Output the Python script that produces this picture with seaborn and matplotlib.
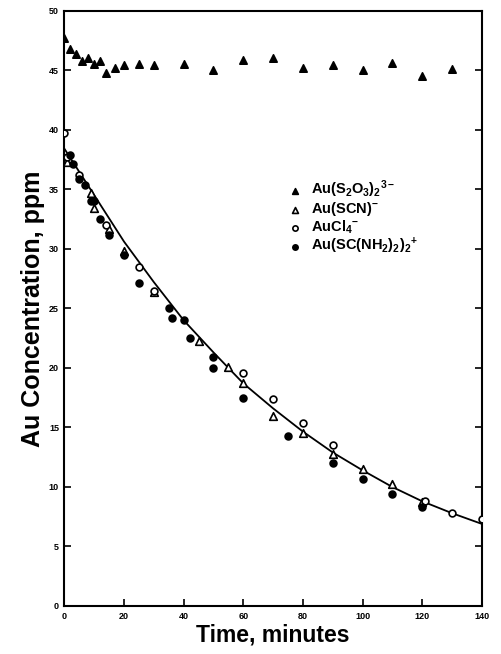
import matplotlib
matplotlib.use("Agg")
import matplotlib.pyplot as plt
import seaborn as sns
import pandas as pd

# ---------------- data ----------------
thio_t = [0, 2, 4, 6, 8, 10, 12, 14, 17, 20, 25, 30, 40, 50, 60, 70, 80, 90, 100, 110, 120, 130]
thio_c = [47.7, 46.8, 46.4, 45.8, 46.0, 45.5, 45.8, 44.8, 45.2, 45.4, 45.5, 45.4, 45.5, 45.0,
          45.9, 46.0, 45.2, 45.4, 45.0, 45.6, 44.5, 45.1]

scn_t = [1, 9, 10, 15, 20, 30, 45, 55, 60, 70, 80, 90, 100, 110, 120]
scn_c = [37.3, 34.7, 33.4, 31.7, 29.8, 26.4, 22.3, 20.1, 18.7, 16.0, 14.5, 12.8, 11.5, 10.25, 8.7]

cl_t = [0, 1, 5, 14, 25, 30, 60, 70, 80, 90, 121, 130, 140]
cl_c = [39.7, 37.7, 36.2, 32.0, 28.5, 26.5, 19.6, 17.4, 15.35, 13.5, 8.8, 7.8, 7.3]

tu_t = [2, 3, 5, 7, 9, 10, 12, 15, 20, 25, 35, 36, 40, 42, 50, 50, 60, 75, 90, 100, 110, 120]
tu_c = [37.9, 37.1, 35.9, 35.4, 34.0, 34.0, 32.5, 31.2, 29.5, 27.1, 25.0, 24.2, 24.0, 22.5,
        20.0, 20.9, 17.5, 14.3, 12.0, 10.7, 9.4, 8.3]

fit_t = [0, 10, 20, 30, 40, 50, 60, 70, 80, 90, 100, 110, 120, 130, 140]
fit_c = [38.4, 34.5, 30.6, 27.2, 24.0, 21.3, 18.7, 16.6, 14.65, 12.9, 11.4, 10.0, 8.8, 7.8, 6.9]

labels = [r"Au(S$_2$O$_3$)$_2$$^{3-}$", r"Au(SCN)$^{-}$", r"AuCl$_4$$^{-}$",
          r"Au(SC(NH$_2$)$_2$)$_2$$^{+}$"]
x_ticks = [0, 20, 40, 60, 80, 100, 120, 140]
y_ticks = [0, 5, 10, 15, 20, 25, 30, 35, 40, 45, 50]

# ---------------- style ----------------
sns.set_theme(style="white")
plt.rcParams['font.family'] = ['Liberation Sans', 'DejaVu Sans']
plt.rcParams['mathtext.fontset'] = 'custom'
plt.rcParams['mathtext.rm'] = 'Liberation Sans:bold'
plt.rcParams['mathtext.it'] = 'Liberation Sans:bold:italic'
plt.rcParams['mathtext.bf'] = 'Liberation Sans:bold'
plt.rcParams['mathtext.default'] = 'rm'
for k in ['text.color', 'axes.labelcolor', 'xtick.color', 'ytick.color']:
    plt.rcParams[k] = 'black'

fig = plt.figure(figsize=(5.01, 6.54), dpi=100)
ax = fig.add_axes([0.1287, 0.0734, 0.9615 - 0.1287, 0.9836 - 0.0734])

fit_df = pd.DataFrame({"t": fit_t, "c": fit_c})
sns.lineplot(data=fit_df, x="t", y="c", ax=ax, color="black", lw=1.3, legend=False)

series = [
    (thio_t, thio_c, "^", "black", "black", 28),
    (scn_t, scn_c, "^", "white", "black", 30),
    (cl_t, cl_c, "o", "white", "black", 24),
    (tu_t, tu_c, "o", "black", "black", 24),
]
handles = []
for (t, c, m, fc, ec, s), lab in zip(series, labels):
    df = pd.DataFrame({"t": t, "c": c})
    sns.scatterplot(data=df, x="t", y="c", ax=ax, marker=m, s=s, facecolor=fc,
                    edgecolor=ec, linewidth=1.2, zorder=3, legend=False)
    h = ax.scatter([], [], marker=m, s=s * 0.6, facecolor=fc, edgecolor=ec, linewidth=1.2,
                   label=lab)
    handles.append(h)

ax.legend(handles=handles, frameon=False, loc="upper left", bbox_to_anchor=(0.51, 0.73),
          prop={"weight": "bold", "size": 10.5}, handletextpad=0.4, labelspacing=0.0,
          borderpad=0, handlelength=1.4)

ax.set_xlim(0, 140)
ax.set_ylim(0, 50)
ax.set_xticks(x_ticks)
ax.set_yticks(y_ticks)
ax.set_xticklabels([str(v) for v in x_ticks], fontsize=6.5, fontweight="bold")
ax.set_yticklabels([str(v) for v in y_ticks], fontsize=6.5, fontweight="bold")
ax.tick_params(axis="both", direction="in", length=5, width=1.2, color="black",
               pad=4, right=True, left=True, bottom=True, top=False, labelright=False)
for sp in ax.spines.values():
    sp.set_color("black")
    sp.set_linewidth(1.5)

ax.set_xlabel("Time, minutes", fontsize=16.5, fontweight="bold", labelpad=2)
ax.set_ylabel("Au Concentration, ppm", fontsize=18, fontweight="bold", labelpad=3)

fig.savefig("out.png", dpi=100)
